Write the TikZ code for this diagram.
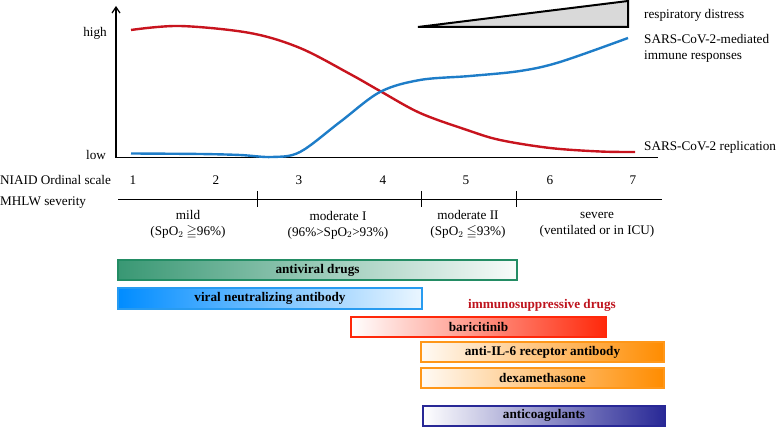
\documentclass[tikz,border=0pt]{standalone}
\usepackage{amsmath}
\usepackage{amssymb}
\usepackage{fontspec}
\setmainfont{Liberation Serif}
\usetikzlibrary{arrows.meta}

\definecolor{virusred}{RGB}{200,20,30}
\definecolor{immuneblue}{RGB}{30,125,200}
\definecolor{avgreen}{RGB}{35,140,100}
\definecolor{nabblue}{RGB}{0,140,255}
\definecolor{nabedge}{RGB}{40,155,240}
\definecolor{barired}{RGB}{255,40,10}
\definecolor{drugorange}{RGB}{255,140,0}
\definecolor{coagnavy}{RGB}{40,40,150}
\definecolor{isdred}{RGB}{190,20,30}

\begin{document}
\begin{tikzpicture}[x=1pt,y=-1pt,
    lbl/.style={font=\fontsize{13.2}{16}\selectfont, inner sep=0pt},
    curve/.style={line width=2.4pt},
    bar/.style={line width=2pt, minimum height=20pt, inner sep=0pt,
        font=\bfseries\fontsize{13.2}{16}\selectfont}]
    \useasboundingbox (0,0) rectangle (778,427);

    % Axes
    \coordinate (origin) at (116,158);
    \coordinate (ytop) at (116,6);
    \coordinate (xend) at (658,158);
    \draw[-{Straight Barb[length=6pt,width=8pt]},line width=1.2pt] (origin) -- (ytop);
    \draw[line width=1pt] (origin) -- (xend);
    \node[lbl] (high) at (95,33) {high};
    \node[lbl] (low) at (96,155) {low};

    % Respiratory distress wedge
    \filldraw[fill=gray!30, line width=2pt, line join=miter] (418,27) -- (628,27) -- (628,1) -- cycle;
    \node[lbl, anchor=west] (resp) at (644,15) {respiratory distress};

    % SARS-CoV-2 replication
    \draw[curve, virusred] plot[smooth, tension=0.55] coordinates
        {(131,30) (180,26) (250,33) (300,48) (350,74) (380,91) (420,113)
         (467,130) (500,140) (550,148) (600,151.5) (635,152)};
    \node[lbl, anchor=west] (repl) at (644,147) {SARS-CoV-2 replication};

    % Immune responses
    \draw[curve, immuneblue] plot[smooth, tension=0.55] coordinates
        {(131,153.5) (200,154) (240,155) (272,157) (300,152) (340,122)
         (380,92) (420,80) (470,76) (520,71) (560,62) (628,38)};
    \node[lbl, anchor=west, align=left] (immune) at (644,48)
        {SARS-CoV-2-mediated\\immune responses};

    % NIAID ordinal scale
    \node[lbl, anchor=west] (niaid) at (0,180) {NIAID Ordinal scale};
    \foreach \n/\x in {1/133,2/216,3/299,4/383,5/466,6/550,7/633}
        \node[lbl] (ord\n) at (\x,180) {\n};

    % MHLW severity
    \node[lbl, anchor=west] (mhlw) at (0,203) {MHLW severity};
    \coordinate (sevL) at (118,200);
    \coordinate (sevR) at (662,200);
    \draw[line width=1pt] (sevL) -- (sevR);
    \foreach \x in {257,421,516}
        \draw[line width=1pt] (\x,191) -- (\x,207);
    \node[lbl, align=center] (mild) at (188,225)
        {mild\\(SpO$_2$ $\geqq$96\%)};
    \node[lbl, align=center] (modI) at (338,225)
        {moderate I\\(96\%>SpO$_2$>93\%)};
    \node[lbl, align=center] (modII) at (468,225)
        {moderate II\\(SpO$_2$ $\leqq$93\%)};
    \node[lbl, align=center] (severe) at (597,225)
        {severe\\(ventilated or in ICU)};

    % Drugs
    \node[bar, draw=avgreen, left color=avgreen!90, right color=avgreen!3,
        minimum width=399pt] (antiviral) at (317.5,270) {antiviral drugs};
    \node[bar, draw=nabedge, left color=nabblue, right color=nabblue!8,
        minimum width=304pt] (nab) at (270,298.5) {viral neutralizing antibody};
    \node[lbl, font=\bfseries\fontsize{13.2}{16}\selectfont, text=isdred]
        (isd) at (542,305) {immunosuppressive drugs};
    \node[bar, draw=barired, left color=white, right color=barired,
        minimum width=255pt] (bari) at (478.5,327) {baricitinib};
    \node[bar, draw=drugorange!90, left color=drugorange!4, right color=drugorange,
        minimum width=243pt] (il6) at (542.5,352) {anti-IL-6 receptor antibody};
    \node[bar, draw=drugorange!90, left color=drugorange!4, right color=drugorange,
        minimum width=243pt] (dexa) at (542.5,377.5) {dexamethasone};
    \node[bar, draw=coagnavy, left color=white, right color=coagnavy,
        minimum width=242pt] (coag) at (544,415.5) {anticoagulants};

\end{tikzpicture}
\end{document}
